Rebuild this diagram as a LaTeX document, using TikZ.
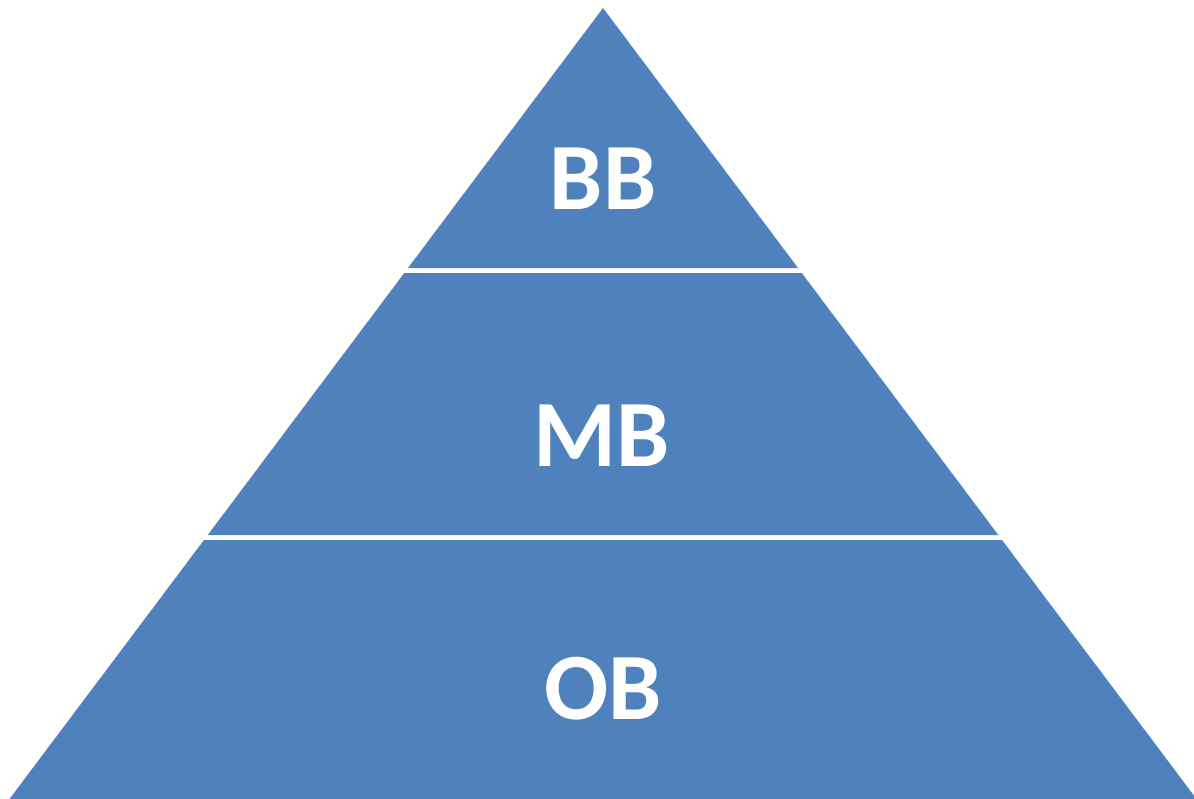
\documentclass[tikz,border=0pt]{standalone}
\usepackage{fontspec}
\setmainfont{Carlito}
\definecolor{tierblue}{HTML}{4F81BD}
\begin{document}
\begin{tikzpicture}[x=1pt,y=-1pt,
  tier/.style={fill=tierblue,draw=none},
  tierlabel/.style={text=white,font=\fontsize{95}{95}\selectfont\bfseries,anchor=base,inner sep=0pt}]
\useasboundingbox (0,0) rectangle (1194,798);
\clip (0,0) rectangle (1194,798);
% three stacked tiers of the pyramid, separated by thin gaps
\fill[tier] (603,8) -- (798,268) -- (408,268) -- cycle;
\fill[tier] (404.25,273) -- (801.75,273) -- (998.25,535) -- (207.75,535) -- cycle;
\fill[tier] (204,540) -- (1002,540) -- (1198,801) -- (8,801) -- cycle;
% tier labels
\node[tierlabel] (bb) at (603,209) {BB};
\node[tierlabel] (mb) at (602,466) {MB};
\node[tierlabel] (ob) at (603,719) {OB};
\end{tikzpicture}
\end{document}
